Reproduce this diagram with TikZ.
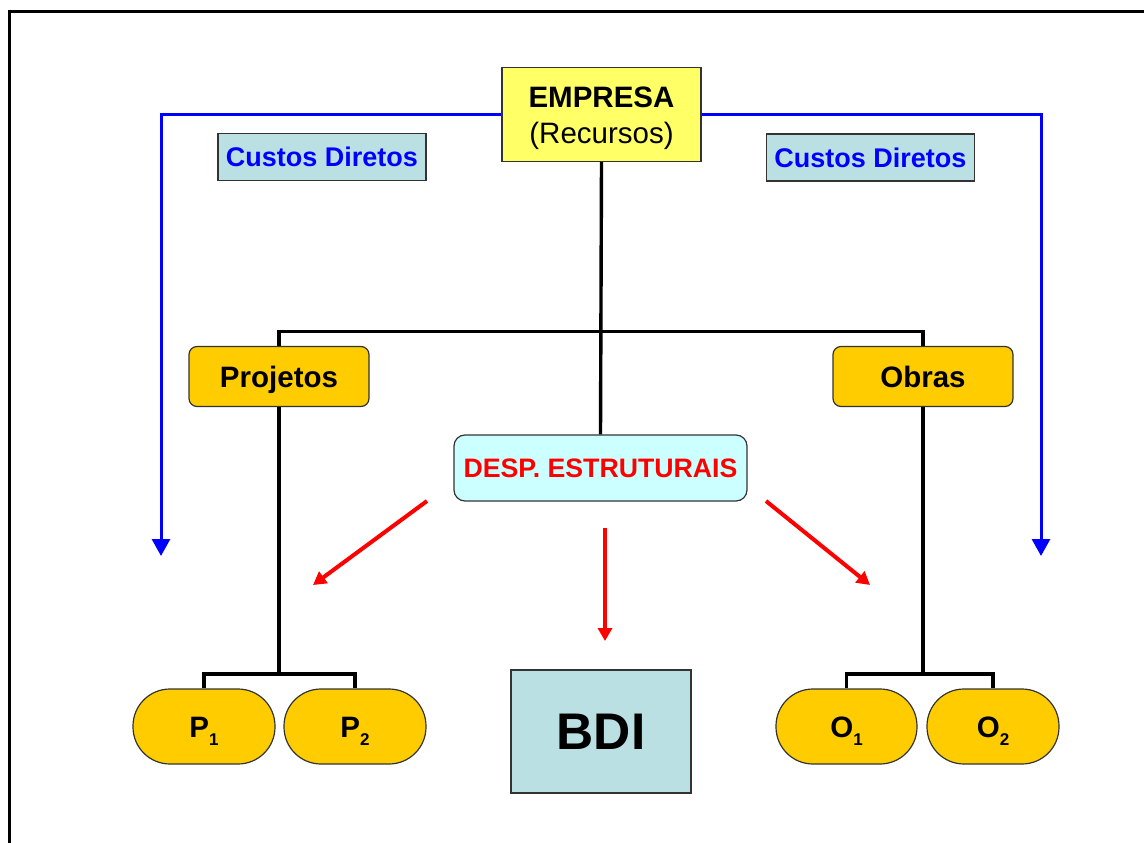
\documentclass[tikz,border=0pt]{standalone}
\usepackage{fontspec}
\setmainfont{Liberation Sans}
\usetikzlibrary{arrows.meta}
\definecolor{paleyellow}{HTML}{FFFF66}
\definecolor{gold}{HTML}{FFCC00}
\definecolor{paleteal}{HTML}{BBE0E3}
\definecolor{paleaqua}{HTML}{CCFFFF}
\definecolor{edgegray}{HTML}{333333}
\newcommand{\idx}[1]{\raisebox{-8pt}{\fontsize{17}{17}\selectfont #1}}
% two centred lines; box height = cap height of line 1, depth = down to baseline of line 2
\newcommand{\twolines}[2]{\raisebox{0pt}[21pt][36pt]{\vtop{\halign{\hfil##\hfil\cr #1\cr #2\cr}}}}
\begin{document}
\begin{tikzpicture}[x=1pt,y=-1pt,
  box/.style={draw=edgegray,line width=1.2pt,inner sep=0pt,text depth=0pt},
  topbox/.style={draw=edgegray,line width=1.2pt,inner sep=0pt,
    fill=paleyellow,minimum width=199pt,minimum height=94pt,
    font=\fontsize{29.5}{36}\selectfont},
  costlabel/.style={box,fill=paleteal,minimum width=208pt,minimum height=47pt,
    text=blue,font=\fontsize{27}{30}\selectfont\bfseries,text height=19.3pt},
  groupbox/.style={box,fill=gold,rounded corners=8pt,minimum width=180pt,
    minimum height=60pt,font=\fontsize{29.5}{32}\selectfont\bfseries,text height=21.1pt},
  overhead/.style={box,fill=paleaqua,rounded corners=11pt,minimum width=293pt,
    minimum height=66pt,text=red,font=\fontsize{26.7}{30}\selectfont\bfseries,text height=19.1pt},
  itembox/.style={box,fill=gold,rounded corners=37pt,minimum height=75pt,
    font=\fontsize{29.5}{32}\selectfont\bfseries,text height=21.1pt},
  bdibox/.style={box,fill=paleteal,minimum width=180pt,minimum height=123pt,
    font=\fontsize{51.5}{60}\selectfont\bfseries,text height=36.9pt},
  tree/.style={line width=3.4pt,black},
  direct/.style={line width=3pt,blue,-{Triangle[width=18pt,length=17pt]}},
  alloc/.style={line width=4pt,red,-{Triangle[width=14pt,length=13pt]}},
]
\useasboundingbox (0,0) rectangle (1144,843);
\clip (0,0) rectangle (1144,843);

% outer frame (runs off the right and bottom edges)
\draw[line width=3.5pt] (9.5,1000) -- (9.5,11.5) -- (1200,11.5);

% nodes
\node[topbox] (empresa) at (601.5,114.5) {\twolines{\textbf{EMPRESA}}{(Recursos)}};
\node[costlabel] (cdl) at (322,157) {Custos Diretos};
\node[costlabel] (cdr) at (870.5,157.5) {Custos Diretos};
\node[groupbox] (proj) at (279,376.5) {Projetos};
\node[groupbox] (obras) at (923,376.5) {Obras};
\node[overhead] (desp) at (600.5,468) {DESP. ESTRUTURAIS};
\node[itembox,minimum width=142pt] (p1) at (204,726.5) {P\idx{1}};
\node[itembox,minimum width=142pt] (p2) at (355,726.5) {P\idx{2}};
\node[itembox,minimum width=141pt] (o1) at (846.5,726.5) {O\idx{1}};
\node[itembox,minimum width=132pt] (o2) at (993,726.5) {O\idx{2}};
\node[bdibox] (bdi) at (601,731.5) {BDI};

% junction points and free arrow ends
\coordinate (hub) at (601.5,331.5);
\coordinate (pjoin) at (279,674);
\coordinate (ojoin) at (923,674);
\coordinate (leftdrop) at (161,556);
\coordinate (rightdrop) at (1041,556);
\coordinate (aLs) at (427,501);
\coordinate (aLe) at (313,585);
\coordinate (aCs) at (605,528);
\coordinate (aCe) at (605,641);
\coordinate (aRs) at (766,501);
\coordinate (aRe) at (870,585);

% hierarchy lines
\draw[tree] (empresa.south) -- (desp.north);
\draw[tree] (proj.north) |- (hub) -| (obras.north);
\draw[tree] (proj.south) -- (pjoin);
\draw[tree] (p1.north) |- (pjoin) -| (p2.north);
\draw[tree] (obras.south) -- (ojoin);
\draw[tree] (o1.north) |- (ojoin) -| (o2.north);

% direct costs
\draw[direct] (empresa.west) -| (leftdrop);
\draw[direct] (empresa.east) -| (rightdrop);

% overhead allocation
\draw[alloc] (aLs) -- (aLe);
\draw[alloc] (aCs) -- (aCe);
\draw[alloc] (aRs) -- (aRe);
\end{tikzpicture}
\end{document}
